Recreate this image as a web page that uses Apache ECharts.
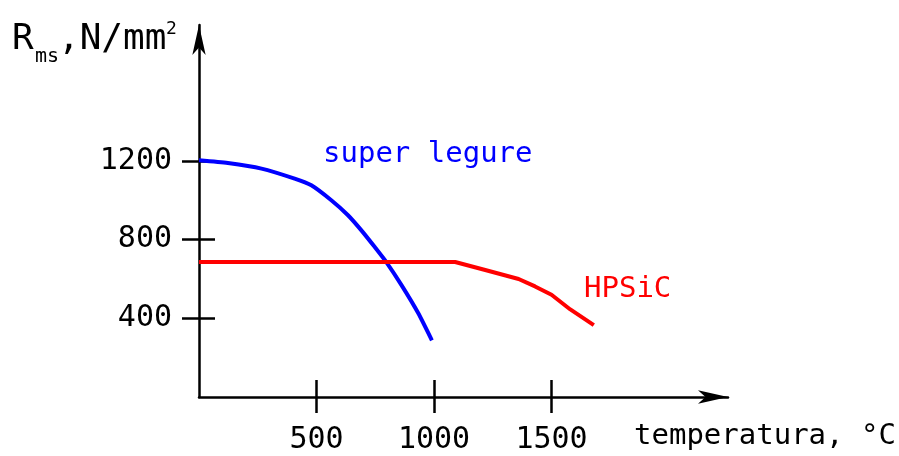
<!DOCTYPE html>
<html>
<head>
<meta charset="utf-8">
<script src="https://cdn.jsdelivr.net/npm/echarts@6/dist/echarts.min.js"></script>
<style>
  html, body { margin: 0; padding: 0; background: #fff; }
  #chart { width: 899px; height: 456px; }
</style>
</head>
<body>
<div id="chart"></div>
<script>
// temperature (°C) and strength (N/mm2)
const superTemp = [0, 123, 266, 407, 478, 563, 634, 691, 748, 797, 861, 932, 991];
const superVal = [1203, 1189, 1161, 1110, 1076, 1000, 924, 847, 762, 686, 570, 428, 288];
const hpsicTemp = [0, 1090, 1210, 1360, 1430, 1500, 1580, 1680];
const hpsicVal = [686, 686, 648, 600, 562, 520, 445, 365];
const xTicks = [500, 1000, 1500];
const yTicks = [400, 800, 1200];

const FONT = 'DejaVu Sans Mono';
const chart = echarts.init(document.getElementById('chart'));

const pairs = (xs, ys) => xs.map((x, i) => [x, ys[i]]);
const plain = (v) => String(v);

const baseX = {
    type: 'value',
    min: 0,
    max: 2251,
    position: 'bottom',
    splitLine: { show: false }
};
const baseY = {
    type: 'value',
    min: 0,
    max: 1891,
    position: 'left',
    splitLine: { show: false }
};
const tickStyle = { color: '#000', width: 2.5 };

const options = {
    animation: false,
    grid: { left: 199, right: 171, top: 25, bottom: 59, containLabel: false },
    xAxis: [
        Object.assign({}, baseX, {
            axisLine: {
                lineStyle: { color: '#000', width: 2.5 },
                symbol: ['none', 'arrow'],
                symbolSize: [10, 30]
            },
            axisTick: { show: true, length: 16, customValues: xTicks, lineStyle: tickStyle },
            axisLabel: { customValues: xTicks, formatter: plain, color: '#000', fontFamily: FONT, fontSize: 30, margin: 28 }
        }),
        Object.assign({}, baseX, {
            axisLine: { show: false },
            axisTick: { show: true, inside: true, length: 17, customValues: xTicks, lineStyle: tickStyle },
            axisLabel: { show: false }
        })
    ],
    yAxis: [
        Object.assign({}, baseY, {
            axisLine: {
                show: true,
                lineStyle: { color: '#000', width: 2.5 },
                symbol: ['none', 'arrow'],
                symbolSize: [10, 30]
            },
            axisTick: { show: true, length: 17, customValues: yTicks, lineStyle: tickStyle },
            axisLabel: { customValues: yTicks, formatter: plain, color: '#000', fontFamily: FONT, fontSize: 30, margin: 27 }
        }),
        Object.assign({}, baseY, {
            axisLine: { show: false },
            axisTick: { show: true, inside: true, length: 16, customValues: yTicks, lineStyle: tickStyle },
            axisLabel: { show: false }
        })
    ],
    graphic: [
        { type: 'text', left: 12, top: 22, style: { text: 'R', font: '36px ' + FONT, fill: '#000' } },
        { type: 'text', left: 35, top: 47, style: { text: 'ms', font: '20px ' + FONT, fill: '#000' } },
        { type: 'text', left: 58, top: 22, style: { text: ',N/mm', font: '36px ' + FONT, fill: '#000' } },
        { type: 'text', left: 166, top: 20, style: { text: '2', font: '18px ' + FONT, fill: '#000' } },
        { type: 'text', left: 323, top: 140, style: { text: 'super legure', font: '29px ' + FONT, fill: '#0000ff' } },
        { type: 'text', left: 584, top: 275, style: { text: 'HPSiC', font: '29px ' + FONT, fill: '#ff0000' } },
        { type: 'text', left: 634, top: 422, style: { text: 'temperatura, °C', font: '29px ' + FONT, fill: '#000' } }
    ],
    series: [
        {
            name: 'super legure',
            type: 'line',
            smooth: 0.2,
            showSymbol: false,
            lineStyle: { color: '#0000ff', width: 4 },
            data: pairs(superTemp, superVal)
        },
        {
            name: 'HPSiC',
            type: 'line',
            showSymbol: false,
            lineStyle: { color: '#ff0000', width: 4 },
            data: pairs(hpsicTemp, hpsicVal)
        }
    ]
};
chart.setOption(options);
</script>
</body>
</html>
